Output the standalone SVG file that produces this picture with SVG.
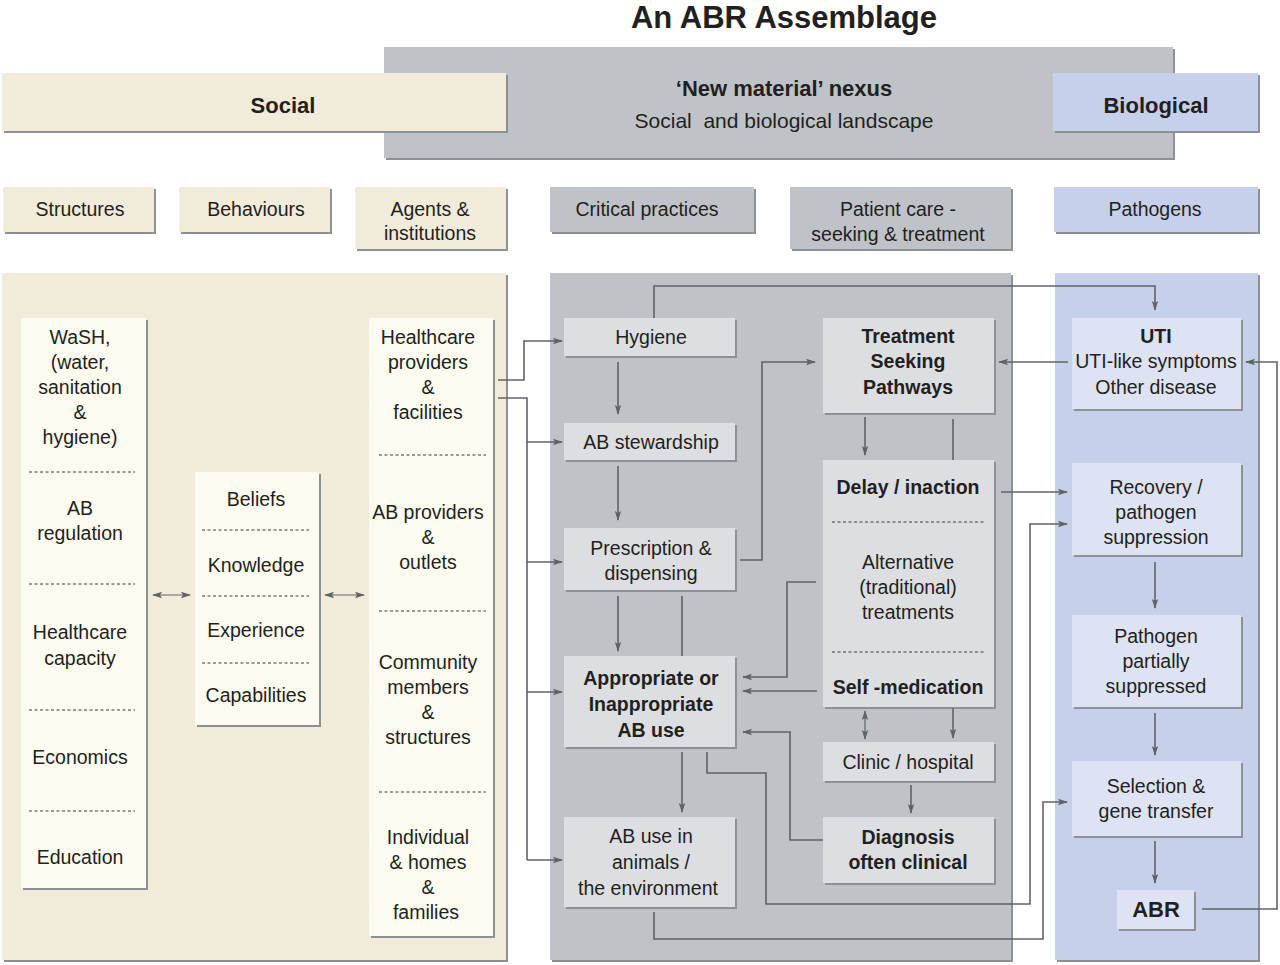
<svg xmlns="http://www.w3.org/2000/svg" width="1280" height="965" viewBox="0 0 1280 965">
<defs>
<style>
text{font-family:"Liberation Sans",Arial,sans-serif;fill:#231f20;text-anchor:middle;font-size:19.5px}
.b{font-weight:bold}
.sh{fill:#8d9196}
.beige{fill:#f0ebdb}
.cream{fill:#fdfbef}
.grey{fill:#bfc3c7}
.gbox{fill:#dcdee1}
.blue{fill:#c7d0ea}
.bbox{fill:#dde3f3}
.dash{stroke:#3a3a3a;stroke-width:1;stroke-dasharray:3 2.5;fill:none}
.c{stroke:#5f6368;stroke-width:1.6;fill:none}
.ca{stroke:#5f6368;stroke-width:1.6;fill:none;marker-end:url(#ah)}
.cd{stroke:#5f6368;stroke-width:1.2;fill:none;marker-end:url(#ah);marker-start:url(#ah)}
</style>
<marker id="ah" viewBox="0 0 10 8" refX="9" refY="4" markerWidth="10" markerHeight="8" markerUnits="userSpaceOnUse" orient="auto-start-reverse">
<path d="M0,0.8 L10,4 L0,7.2 L2,4 Z" fill="#5f6368"/>
</marker>
</defs>
<rect width="1280" height="965" fill="#ffffff"/>

<g id="title"><text x="784" y="28" class="b" style="font-size:31px">An ABR Assemblage</text></g>

<g id="nexus">
<rect class="sh" x="386" y="49" width="789" height="111"/>
<rect class="grey" x="384" y="47" width="789" height="111"/>
<text x="784" y="96" class="b" style="font-size:22px">‘New material’ nexus</text>
<text x="784" y="128" style="font-size:21px" xml:space="preserve">Social  and biological landscape</text>
</g>
<g id="social">
<rect class="sh" x="4" y="75" width="504" height="58"/>
<rect class="beige" x="2" y="73" width="504" height="58"/>
<text x="283" y="113" class="b" style="font-size:22px">Social</text>
</g>
<g id="biological">
<rect class="sh" x="1055" y="75" width="205" height="58"/>
<rect class="blue" x="1053" y="73" width="205" height="58"/>
<text x="1156" y="113" class="b" style="font-size:22px">Biological</text>
</g>

<g id="h-structures"><rect class="sh" x="5" y="189" width="151" height="45"/><rect class="beige" x="3" y="187" width="151" height="45"/><text x="80" y="216">Structures</text></g>
<g id="h-behaviours"><rect class="sh" x="181" y="189" width="151" height="45"/><rect class="beige" x="179" y="187" width="151" height="45"/><text x="256" y="216">Behaviours</text></g>
<g id="h-agents"><rect class="sh" x="357" y="189" width="151" height="62"/><rect class="beige" x="355" y="187" width="151" height="62"/><text x="430" y="216">Agents &amp;</text><text x="430" y="240">institutions</text></g>
<g id="h-critical"><rect class="sh" x="552" y="189" width="204" height="45"/><rect class="grey" x="550" y="187" width="204" height="45"/><text x="647" y="216">Critical practices</text></g>
<g id="h-patient"><rect class="sh" x="792" y="189" width="221" height="62"/><rect class="grey" x="790" y="187" width="221" height="62"/><text x="898" y="216">Patient care -</text><text x="898" y="241">seeking &amp; treatment</text></g>
<g id="h-pathogens"><rect class="sh" x="1056" y="189" width="204" height="45"/><rect class="blue" x="1054" y="187" width="204" height="45"/><text x="1155" y="216">Pathogens</text></g>

<g id="panel-social"><rect class="sh" x="4" y="275" width="504" height="687"/><rect class="beige" x="2" y="273" width="504" height="687"/></g>
<g id="panel-nexus"><rect class="sh" x="552" y="275" width="461" height="687"/><rect class="grey" x="550" y="273" width="461" height="687"/></g>
<g id="panel-bio"><rect class="sh" x="1057" y="275" width="203" height="687"/><rect class="blue" x="1055" y="273" width="203" height="687"/></g>

<g id="structures">
<rect class="sh" x="23" y="320" width="125" height="570"/>
<rect class="cream" x="21" y="318" width="125" height="570"/>
<text x="80" y="344">WaSH,</text><text x="80" y="369">(water,</text><text x="80" y="394">sanitation</text><text x="80" y="419">&amp;</text><text x="80" y="444">hygiene)</text>
<line class="dash" x1="29" y1="472" x2="135" y2="472"/>
<text x="80" y="515">AB</text><text x="80" y="540">regulation</text>
<line class="dash" x1="29" y1="584" x2="135" y2="584"/>
<text x="80" y="639">Healthcare</text><text x="80" y="665">capacity</text>
<line class="dash" x1="29" y1="710" x2="135" y2="710"/>
<text x="80" y="764">Economics</text>
<line class="dash" x1="29" y1="811" x2="135" y2="811"/>
<text x="80" y="864">Education</text>
</g>

<g id="behaviours">
<rect class="sh" x="197" y="474" width="124" height="253"/>
<rect class="cream" x="195" y="472" width="124" height="253"/>
<text x="256" y="506">Beliefs</text>
<line class="dash" x1="202" y1="530" x2="309" y2="530"/>
<text x="256" y="572">Knowledge</text>
<line class="dash" x1="202" y1="596" x2="309" y2="596"/>
<text x="256" y="637">Experience</text>
<line class="dash" x1="202" y1="663" x2="309" y2="663"/>
<text x="256" y="702">Capabilities</text>
</g>

<g id="agents">
<rect class="sh" x="371" y="320" width="124" height="618"/>
<rect class="cream" x="369" y="318" width="124" height="618"/>
<text x="428" y="344">Healthcare</text><text x="428" y="369">providers</text><text x="428" y="394">&amp;</text><text x="428" y="419">facilities</text>
<line class="dash" x1="379" y1="455" x2="486" y2="455"/>
<text x="428" y="519">AB providers</text><text x="428" y="544">&amp;</text><text x="428" y="569">outlets</text>
<line class="dash" x1="379" y1="611" x2="486" y2="611"/>
<text x="428" y="669">Community</text><text x="428" y="694">members</text><text x="428" y="719">&amp;</text><text x="428" y="744">structures</text>
<line class="dash" x1="379" y1="792" x2="486" y2="792"/>
<text x="428" y="844">Individual</text><text x="428" y="869">&amp; homes</text><text x="428" y="894">&amp;</text><text x="426" y="919">families</text>
</g>

<g id="hygiene"><rect class="sh" x="566" y="320" width="171" height="38"/><rect class="gbox" x="564" y="318" width="171" height="38"/><text x="651" y="344">Hygiene</text></g>
<g id="stewardship"><rect class="sh" x="566" y="425" width="171" height="37"/><rect class="gbox" x="564" y="423" width="171" height="37"/><text x="651" y="449">AB stewardship</text></g>
<g id="prescription"><rect class="sh" x="566" y="530" width="171" height="62"/><rect class="gbox" x="564" y="528" width="171" height="62"/><text x="651" y="555">Prescription &amp;</text><text x="651" y="580">dispensing</text></g>
<g id="abuse"><rect class="sh" x="566" y="658" width="171" height="91"/><rect class="gbox" x="564" y="656" width="171" height="91"/><text x="651" y="685" class="b">Appropriate or</text><text x="651" y="711" class="b">Inappropriate</text><text x="651" y="737" class="b">AB use</text></g>
<g id="animals"><rect class="sh" x="566" y="819" width="171" height="90"/><rect class="gbox" x="564" y="817" width="171" height="90"/><text x="651" y="843">AB use in</text><text x="651" y="869">animals /</text><text x="648" y="895">the environment</text></g>

<g id="tsp"><rect class="sh" x="825" y="320" width="171" height="95"/><rect class="gbox" x="823" y="318" width="171" height="95"/><text x="908" y="343" class="b">Treatment</text><text x="908" y="368" class="b">Seeking</text><text x="908" y="394" class="b">Pathways</text></g>
<g id="delay"><rect class="sh" x="825" y="462" width="171" height="247"/><rect class="gbox" x="823" y="460" width="171" height="247"/>
<text x="908" y="494" class="b">Delay / inaction</text>
<line class="dash" x1="832" y1="522" x2="985" y2="522"/>
<text x="908" y="569">Alternative</text><text x="908" y="594">(traditional)</text><text x="908" y="619">treatments</text>
<line class="dash" x1="832" y1="652" x2="985" y2="652"/>
<text x="908" y="694" class="b">Self -medication</text></g>
<g id="clinic"><rect class="sh" x="825" y="744" width="171" height="39"/><rect class="gbox" x="823" y="742" width="171" height="39"/><text x="908" y="769">Clinic / hospital</text></g>
<g id="diagnosis"><rect class="sh" x="825" y="819" width="171" height="66"/><rect class="gbox" x="823" y="817" width="171" height="66"/><text x="908" y="844" class="b">Diagnosis</text><text x="908" y="869" class="b">often clinical</text></g>

<g id="uti"><rect class="sh" x="1074" y="320" width="169" height="91"/><rect class="bbox" x="1072" y="318" width="169" height="91"/><text x="1156" y="343" class="b">UTI</text><text x="1156" y="368">UTI-like symptoms</text><text x="1156" y="394">Other disease</text></g>
<g id="recovery"><rect class="sh" x="1074" y="465" width="169" height="92"/><rect class="bbox" x="1072" y="463" width="169" height="92"/><text x="1156" y="494">Recovery /</text><text x="1156" y="519">pathogen</text><text x="1156" y="544">suppression</text></g>
<g id="partial"><rect class="sh" x="1074" y="617" width="169" height="92"/><rect class="bbox" x="1072" y="615" width="169" height="92"/><text x="1156" y="643">Pathogen</text><text x="1156" y="668">partially</text><text x="1156" y="693">suppressed</text></g>
<g id="selection"><rect class="sh" x="1074" y="763" width="169" height="75"/><rect class="bbox" x="1072" y="761" width="169" height="75"/><text x="1156" y="793">Selection &amp;</text><text x="1156" y="818">gene transfer</text></g>
<g id="abr"><rect class="sh" x="1119" y="892" width="77" height="39"/><rect class="bbox" x="1117" y="890" width="77" height="39"/><text x="1156" y="917" class="b" style="font-size:22px">ABR</text></g>

<g id="connectors">
<line class="cd" x1="153" y1="595" x2="190" y2="595"/>
<line class="cd" x1="325" y1="595" x2="364" y2="595"/>
<path class="ca" d="M498,380 H524 V341 H562"/>
<path class="c" d="M498,398 H527 V860"/>
<path class="ca" d="M527,442 H562"/>
<path class="ca" d="M527,562 H562"/>
<path class="ca" d="M527,692 H562"/>
<path class="ca" d="M527,860 H562"/>
<path class="ca" d="M618,362 V414"/>
<path class="ca" d="M618,466 V520"/>
<path class="ca" d="M618,596 V651"/>
<path class="c" d="M682,596 V656"/>
<path class="ca" d="M740,560 H762 V362 H815"/>
<path class="ca" d="M816,582 H787 V677 H743"/>
<path class="ca" d="M817,691 H743"/>
<path class="ca" d="M823,840 H790 V732 H743"/>
<path class="ca" d="M682,752 V812"/>
<path class="ca" d="M707,752 V773 H766 V904 H1030 V524 H1067"/>
<path class="ca" d="M654,912 V939 H1043 V802 H1067"/>
<path class="ca" d="M654,318 V286 H1155 V310"/>
<path class="ca" d="M1068,362 H999"/>
<path class="ca" d="M865,417 V455"/>
<path class="c" d="M953,419 V460"/>
<path class="ca" d="M1001,492 H1067"/>
<path class="ca" d="M1155,562 V608"/>
<path class="ca" d="M1155,713 V755"/>
<path class="ca" d="M1155,841 V883"/>
<path class="ca" d="M1202,909 H1277 V362 H1246"/>
<line class="cd" x1="865" y1="711" x2="865" y2="739"/>
<path class="ca" d="M953,708 V738"/>
<path class="ca" d="M911,785 V813"/>
</g>
</svg>
